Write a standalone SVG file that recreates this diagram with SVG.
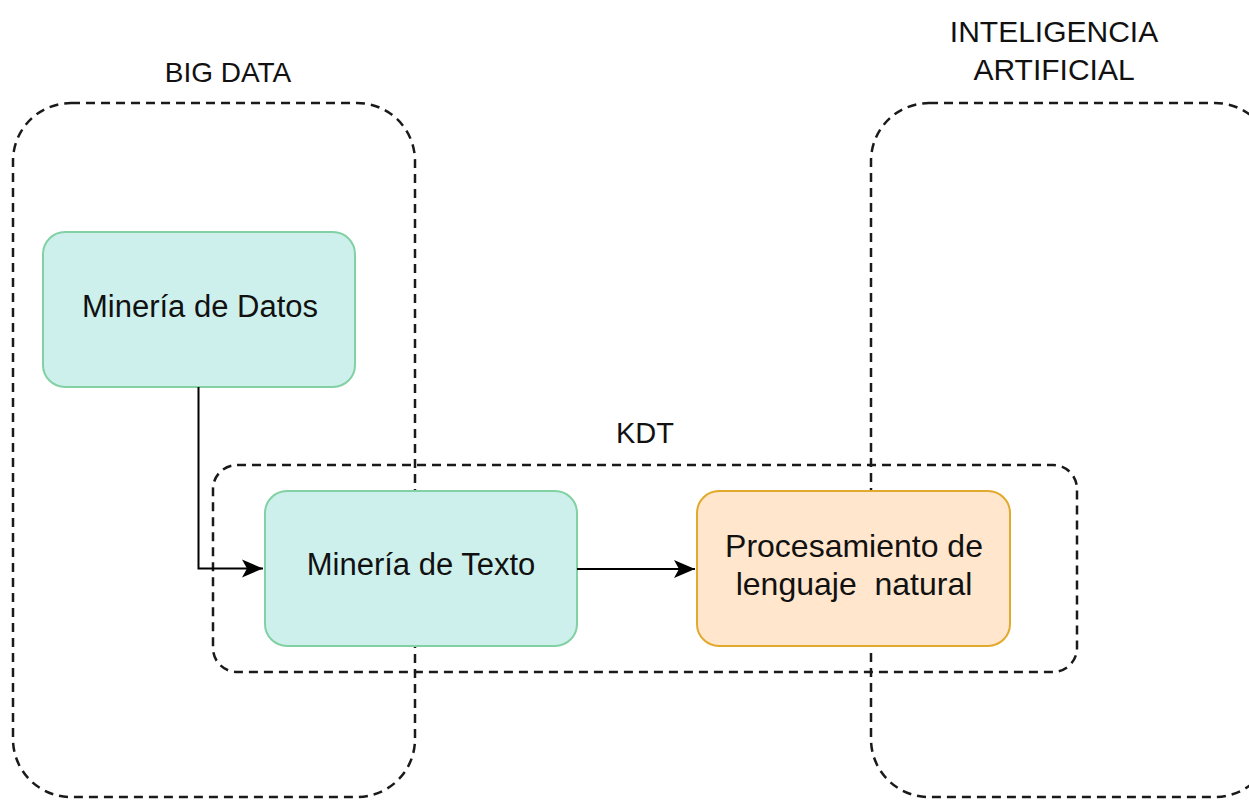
<svg xmlns="http://www.w3.org/2000/svg" width="1249" height="800" viewBox="0 0 1249 800">
<defs>
<style>
.cont{fill:none;stroke:#1a1a1a;stroke-width:2.5;stroke-dasharray:9 6}
.green{fill:#cdf0ec;stroke:#82d1a4;stroke-width:2}
.orange{fill:#ffe6cc;stroke:#e2aa2c;stroke-width:2}
.lbl{font-family:"Liberation Sans",Arial,sans-serif;font-size:28px;fill:#111;text-anchor:middle}
.txt{font-family:"Liberation Sans",Arial,sans-serif;font-size:31px;fill:#111;text-anchor:middle}
.edge{fill:none;stroke:#000;stroke-width:2}
</style>
<marker id="arrow" markerWidth="22" markerHeight="20" viewBox="0 0 22 20" refX="21" refY="10" orient="auto" markerUnits="userSpaceOnUse">
<path d="M0,1 L21,10 L0,19 L5,10 Z" fill="#000"/>
</marker>
</defs>
<rect width="1249" height="800" fill="#fff"/>
<g id="bigdata">
<rect class="cont" x="13" y="103" width="402" height="694" rx="58" ry="58"/>
<text class="lbl" x="228" y="82">BIG DATA</text>
</g>
<g id="ia">
<rect class="cont" x="871" y="103" width="402" height="694" rx="58" ry="58"/>
<text class="lbl" x="1054" y="42" style="font-size:30px">INTELIGENCIA</text>
<text class="lbl" x="1054" y="80" style="font-size:30px">ARTIFICIAL</text>
</g>
<g id="kdt">
<rect class="cont" x="213" y="465" width="864" height="207" rx="24" ry="24"/>
<text class="lbl" x="645" y="443" style="font-size:29px">KDT</text>
</g>
<g id="mineria-datos">
<rect class="green" x="43" y="232" width="312" height="155" rx="22" ry="22"/>
<text class="txt" x="200" y="317">Minería de Datos</text>
</g>
<g id="mineria-texto">
<rect class="green" x="265" y="491" width="312" height="155" rx="22" ry="22"/>
<text class="txt" x="421" y="575">Minería de Texto</text>
</g>
<g id="pln">
<rect class="orange" x="697" y="491" width="313" height="155" rx="22" ry="22"/>
<text class="txt" x="854" y="557" style="font-size:32px">Procesamiento de</text>
<text class="txt" x="854" y="595" style="font-size:32px" xml:space="preserve">lenguaje  natural</text>
</g>
<g id="connectors">
<path class="edge" d="M198.5,387 V568.5 H263" marker-end="url(#arrow)"/>
<path class="edge" d="M577,569 H695" marker-end="url(#arrow)"/>
</g>
</svg>
